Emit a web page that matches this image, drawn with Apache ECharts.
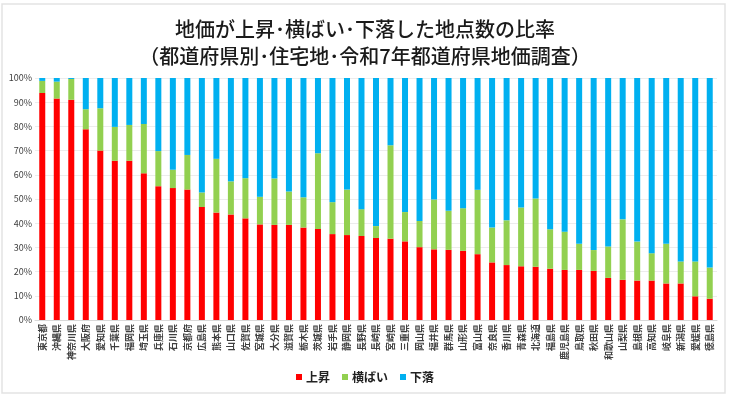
<!DOCTYPE html>
<html>
<head>
<meta charset="utf-8">
<script src="https://cdn.jsdelivr.net/npm/echarts@6/dist/echarts.min.js"></script>
<style>
  html, body { margin: 0; padding: 0; background: #fff; }
  #chart { width: 730px; height: 398px; }
</style>
</head>
<body>
<div id="chart"></div>
<script>
// 都道府県（上昇率の高い順）
const prefectures = ['東京都', '沖縄県', '神奈川県', '大阪府', '愛知県', '千葉県', '福岡県', '埼玉県', '兵庫県', '石川県',
    '京都府', '広島県', '熊本県', '山口県', '佐賀県', '宮城県', '大分県', '滋賀県', '栃木県', '茨城県',
    '岩手県', '静岡県', '長野県', '長崎県', '宮崎県', '三重県', '岡山県', '福井県', '群馬県', '山形県',
    '富山県', '奈良県', '香川県', '青森県', '北海道', '福島県', '鹿児島県', '鳥取県', '秋田県', '和歌山県',
    '山梨県', '島根県', '高知県', '岐阜県', '新潟県', '愛媛県', '徳島県']

// 上昇 (%)
const upRates = [93.8, 91.5, 91.0, 78.8, 70.0, 65.8, 65.8, 60.6, 55.3, 54.5,
    53.9, 46.7, 44.4, 43.6, 42.0, 39.5, 39.3, 39.3, 38.2, 37.6,
    35.5, 35.1, 34.7, 33.9, 33.6, 32.5, 30.1, 29.2, 29.0, 28.6,
    27.2, 23.8, 22.7, 22.2, 22.0, 21.2, 20.7, 20.7, 20.3, 17.4,
    16.6, 16.3, 16.3, 15.1, 15.1, 9.8, 8.8]

// 横ばい (%)
const flatRates = [5.0, 7.0, 8.6, 8.3, 17.5, 14.0, 14.8, 20.4, 14.5, 7.6,
    14.3, 6.0, 22.2, 13.7, 16.6, 11.4, 19.2, 13.8, 12.5, 31.3,
    13.2, 18.8, 11.1, 4.9, 38.6, 12.1, 10.8, 20.6, 16.1, 17.6,
    26.6, 14.4, 18.5, 24.3, 28.2, 16.3, 15.8, 10.8, 8.6, 13.0,
    25.0, 16.1, 11.3, 16.4, 9.1, 14.4, 12.9]

// 下落 (%)
const downRates = upRates.map((v, i) => +(100 - v - flatRates[i]).toFixed(1))

const yTicks = [0, 10, 20, 30, 40, 50, 60, 70, 80, 90, 100]

let myChart = echarts.init(document.getElementById('chart'))
let option = {
    animation: false,
    color: ['#ff0000', '#92d050', '#00b0f0'],
    textStyle: { fontFamily: '"Noto Sans CJK JP", "Noto Sans", sans-serif' },
    graphic: [{
        type: 'rect',
        shape: { x: 2, y: 4, width: 723, height: 389 },
        style: { fill: 'none', stroke: '#e3e3e3', lineWidth: 1.5 },
        silent: true
    }],
    title: {
        text: '地価が上昇･横ばい･下落した地点数の比率\n（都道府県別･住宅地･令和7年都道府県地価調査）',
        left: 'center',
        top: 11,
        textStyle: {
            fontSize: 20,
            fontWeight: 500,
            color: '#1a1a1a',
            lineHeight: 27
        }
    },
    legend: {
        bottom: 10,
        left: 'center',
        itemWidth: 6,
        itemHeight: 6,
        itemGap: 12,
        icon: 'rect',
        textStyle: { fontSize: 12, fontWeight: 'bold', color: '#222', padding: [0, 0, 0, -1] },
        data: ['上昇', '横ばい', '下落']
    },
    grid: {
        left: 35,
        right: 13,
        top: 78,
        bottom: 78
    },
    xAxis: {
        type: 'category',
        data: prefectures,
        axisTick: { show: false },
        axisLine: { lineStyle: { color: '#d9d9d9' } },
        axisLabel: {
            interval: 0,
            rotate: 90,
            fontSize: 9,
            fontWeight: 'bold',
            color: '#404040',
            margin: 4
        }
    },
    yAxis: {
        type: 'value',
        min: yTicks[0],
        max: yTicks[yTicks.length - 1],
        interval: 10,
        axisLine: { show: false },
        axisTick: { show: false },
        splitLine: { lineStyle: { color: '#ececec' } },
        axisLabel: {
            fontSize: 9,
            color: '#404040',
            margin: 3,
            formatter: '{value}%'
        }
    },
    series: [
        { name: '上昇', type: 'bar', stack: 'all', barWidth: 6, data: upRates },
        { name: '横ばい', type: 'bar', stack: 'all', barWidth: 6, data: flatRates },
        { name: '下落', type: 'bar', stack: 'all', barWidth: 6, data: downRates }
    ]
}
myChart.setOption(option)
</script>
</body>
</html>
